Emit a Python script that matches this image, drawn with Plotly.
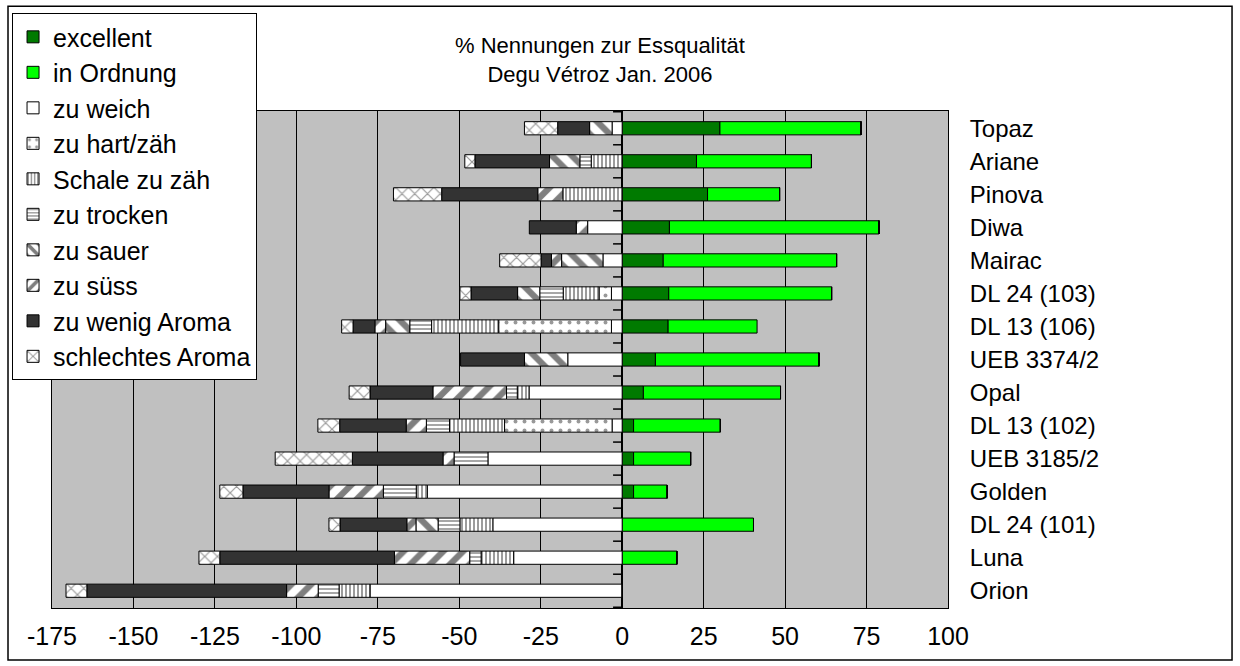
import plotly.graph_objects as go

# Sorten (von oben nach unten)
sorten = ["Topaz", "Ariane", "Pinova", "Diwa", "Mairac", "DL 24 (103)", "DL 13 (106)",
          "UEB 3374/2", "Opal", "DL 13 (102)", "UEB 3185/2", "Golden", "DL 24 (101)",
          "Luna", "Orion"]

# positive Nennungen
excellent = [30.0, 22.8, 26.2, 14.5, 12.6, 14.3, 14.1, 10.2, 6.5, 3.5, 3.5, 3.5, 0, 0, 0]
in_ordnung = [43.3, 35.3, 22.1, 64.3, 53.2, 50.0, 27.3, 50.2, 42.1, 26.6, 17.5, 10.3, 40.3, 16.8, 0]

# negative Nennungen (von 0 nach links gestapelt)
zu_weich = [-3.1, 0, 0, -10.6, -5.9, -3.3, -3.3, -16.7, -28.6, -3.1, -41.2, -59.8, -39.7, -33.3, -77.4]
zu_hart = [0, 0, 0, 0, 0, -3.8, -34.6, 0, 0, -33.0, 0, 0, 0, 0, 0]
schale_zaeh = [0, -9.5, -18.2, 0, 0, -11.0, -20.6, 0, -3.6, -16.9, 0, -3.4, -10.1, -10.0, -9.5]
zu_trocken = [0, -3.5, 0, 0, 0, -7.2, -6.7, 0, -3.3, -7.1, -10.4, -10.1, -6.7, -3.5, -6.4]
zu_sauer = [-6.9, -9.3, 0, 0, -12.7, -6.8, -7.4, -13.3, 0, 0, 0, 0, -6.8, 0, 0]
zu_suess = [0, 0, -7.7, -3.5, -3.1, 0, -3.3, 0, -22.6, -6.2, -3.4, -16.7, -2.8, -23.1, -9.7]
wenig_aroma = [-9.8, -22.9, -29.5, -14.4, -3.2, -14.3, -6.7, -19.6, -19.3, -20.4, -27.8, -26.4, -20.5, -53.6, -61.3]
schlecht_aroma = [-10.2, -3.1, -14.8, 0, -12.7, -3.4, -3.5, 0, -6.4, -6.7, -23.7, -7.1, -3.4, -6.4, -6.4]

x_ticks = [-175, -150, -125, -100, -75, -50, -25, 0, 25, 50, 75, 100]

FONT = "Arial, Liberation Sans, sans-serif"
FS = 24

series = [
    ("excellent", excellent, dict(color="#007A00")),
    ("in Ordnung", in_ordnung, dict(color="#00FF00")),
    ("zu weich", zu_weich, dict(color="white")),
    ("zu hart/zäh", zu_hart, dict(color="white", pattern=dict(shape=".", fgcolor="#333", bgcolor="white", size=9, solidity=0.15))),
    ("Schale zu zäh", schale_zaeh, dict(color="white", pattern=dict(shape="|", fgcolor="#222", bgcolor="white", size=4, solidity=0.45))),
    ("zu trocken", zu_trocken, dict(color="white", pattern=dict(shape="-", fgcolor="#222", bgcolor="white", size=4, solidity=0.4))),
    ("zu sauer", zu_sauer, dict(color="white", pattern=dict(shape="\\", fgcolor="black", bgcolor="white", size=14, solidity=0.45))),
    ("zu süss", zu_suess, dict(color="white", pattern=dict(shape="/", fgcolor="black", bgcolor="white", size=14, solidity=0.45))),
    ("zu wenig Aroma", wenig_aroma, dict(color="#333333")),
    ("schlechtes Aroma", schlecht_aroma, dict(color="white", pattern=dict(shape="x", fgcolor="#333", bgcolor="white", size=9, solidity=0.25))),
]

fig = go.Figure()
for name, vals, mk in series:
    mk = dict(mk)
    mk["line"] = dict(color="black", width=1)
    fig.add_trace(go.Bar(y=sorten, x=vals, name=name, orientation="h", marker=mk))

# kleine Teilstriche an der Nulllinie
shapes = []
for i in range(len(sorten) + 1):
    shapes.append(dict(type="line", xref="x", yref="y", x0=-2.8, x1=0, y0=i - 0.5, y1=i - 0.5,
                       line=dict(color="black", width=1.5)))
# Rahmen um das ganze Diagramm
shapes.append(dict(type="rect", xref="paper", yref="paper", x0=-0.0491, x1=1.317, y0=-0.1046, y1=1.211,
                   line=dict(color="black", width=1.5), fillcolor="rgba(0,0,0,0)", layer="below"))

fig.update_layout(
    width=1240, height=666,
    margin=dict(l=52, r=292, t=111, b=58),
    barmode="relative",
    bargap=0.6,
    plot_bgcolor="#C0C0C0",
    paper_bgcolor="white",
    font=dict(family=FONT, size=FS, color="black"),
    shapes=shapes,
    showlegend=True,
    legend=dict(x=-0.0446, y=1.197, xanchor="left", yanchor="top", bgcolor="white",
                bordercolor="black", borderwidth=1, font=dict(size=25), traceorder="normal",
                itemwidth=30, maxheight=640),
    annotations=[dict(text="% Nennungen zur Essqualität<br>Degu Vétroz Jan. 2006", xref="paper", yref="paper",
                      x=0.612, y=1.1026, xanchor="center", yanchor="middle", showarrow=False,
                      font=dict(size=22))],
    xaxis=dict(range=[-175, 100], tickvals=x_ticks, ticktext=[str(v) for v in x_ticks],
               showgrid=True, gridcolor="black", gridwidth=1, tickfont=dict(size=25),
               zeroline=True, zerolinecolor="black", zerolinewidth=2, showline=True, linecolor="black",
               mirror=True, ticks="", ticklabelstandoff=6),
    yaxis=dict(autorange="reversed", side="right", showline=True, linecolor="black", mirror=True,
               ticks="", ticklabelstandoff=16, showgrid=False),
)

fig.write_html("out.html", config=dict(displayModeBar=False),
               post_script="document.body.style.margin='0';")
